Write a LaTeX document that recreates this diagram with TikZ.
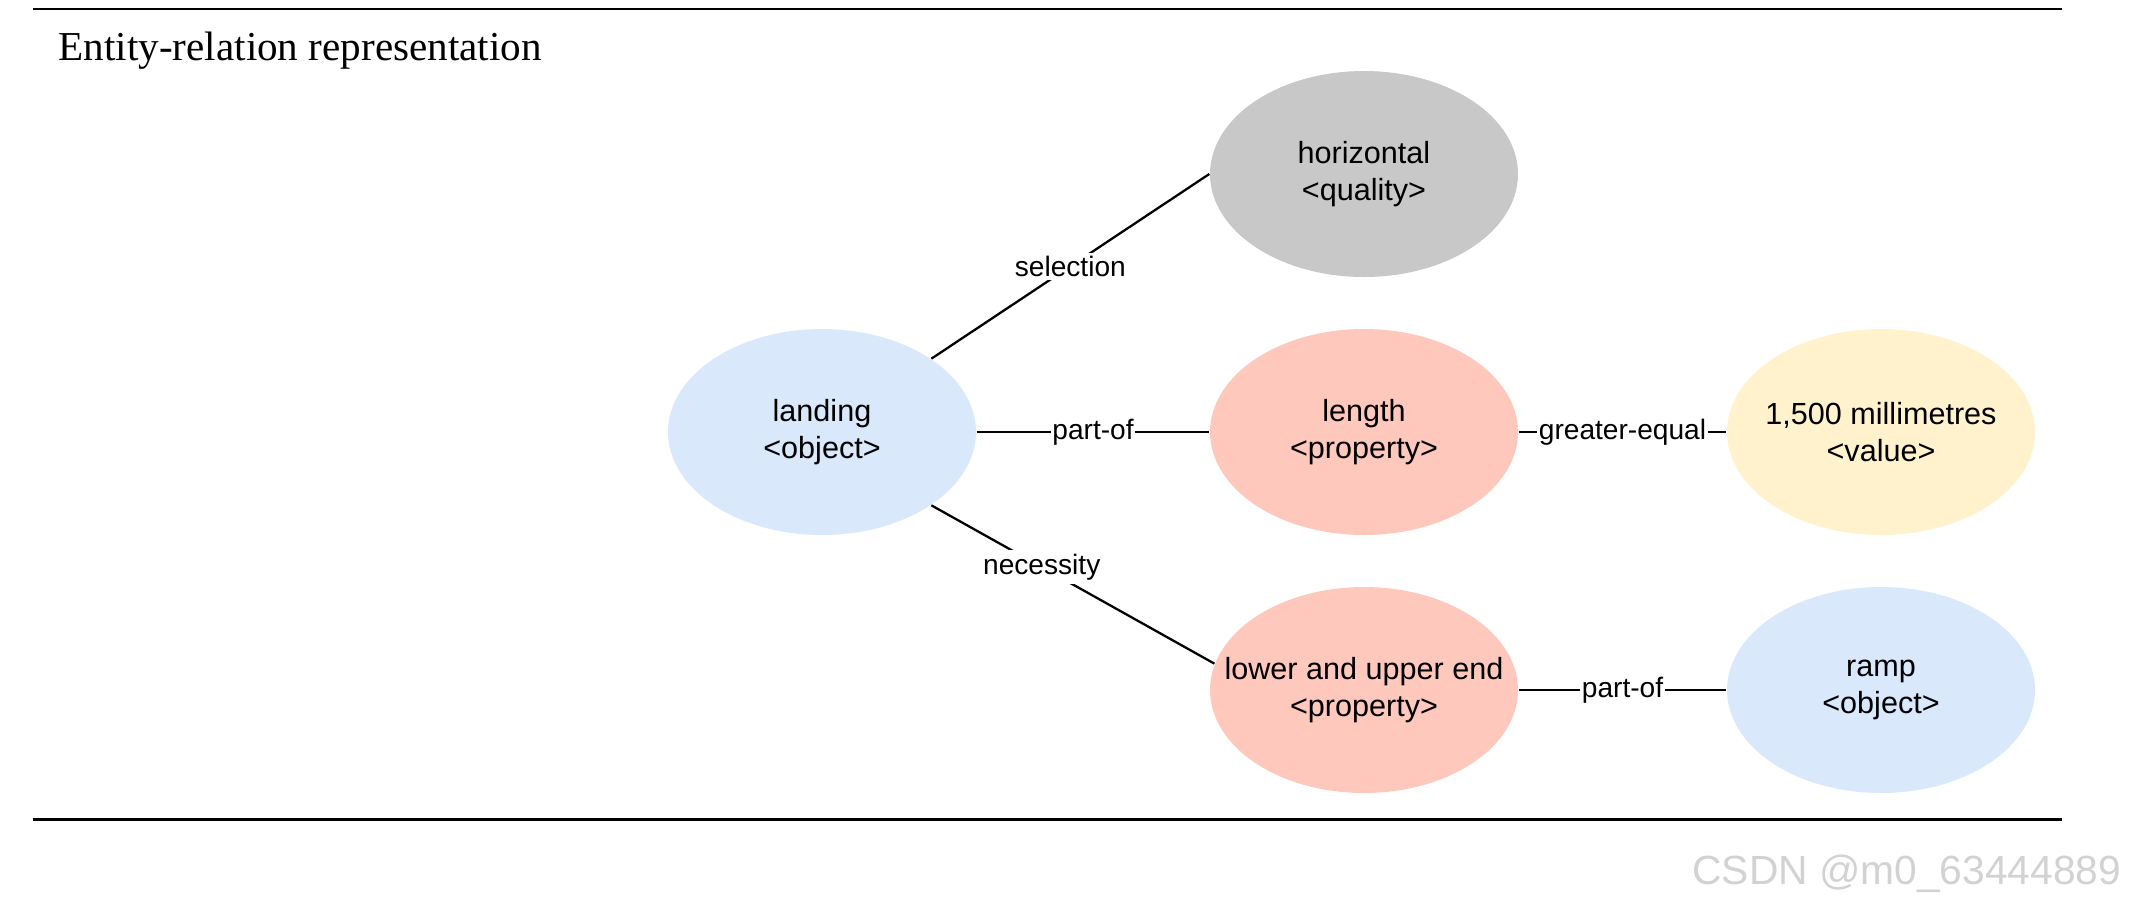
\documentclass[tikz,border=0pt]{standalone}
\usepackage{fontspec}
\setmainfont{Liberation Serif}
\setsansfont{Liberation Sans}
\usetikzlibrary{shapes.geometric}
\definecolor{objblue}{RGB}{218, 232, 252}
\definecolor{propred}{RGB}{255, 200, 188}
\definecolor{qualgray}{RGB}{200, 200, 200}
\definecolor{valyellow}{RGB}{255, 242, 204}

\begin{document}
\begin{tikzpicture}[
    entity/.style={ellipse, minimum width=3.08cm, minimum height=2.06cm, inner xsep=-0.5cm, inner ysep=0pt, align=center, font=\sffamily\fontsize{8.7}{10.5}\selectfont},
    rel/.style={fill=white, inner xsep=0.4pt, inner ysep=1pt, font=\sffamily\fontsize{8}{9.6}\selectfont},
    link/.style={line width=0.65pt}
  ]
          \useasboundingbox (0, 0) rectangle (21.3, 9.02);
          % Rules and title
          \draw[line width=0.48pt] (0.33, 8.93) -- (20.62, 8.93);
          \draw[line width=0.85pt] (0.33, 0.83) -- (20.62, 0.83);
          \node[anchor=base west, inner sep=0pt, font=\fontsize{11.7}{14}\selectfont] (title) at (0.58, 8.42) {Entity-relation representation};
          % Entities
          \node[entity, fill=objblue] (landing) at (8.22, 4.70) {landing\\<object>};
          \node[entity, fill=qualgray] (horizontal) at (13.64, 7.28) {horizontal\\<quality>};
          \node[entity, fill=propred] (length) at (13.64, 4.70) {length\\<property>};
          \node[entity, fill=propred] (ends) at (13.64, 2.12) {lower and upper end\\<property>};
          \node[entity, fill=valyellow] (value) at (18.81, 4.70) {1,500 millimetres\\<value>};
          \node[entity, fill=objblue] (ramp) at (18.81, 2.12) {ramp\\<object>};
          % Relations
          \draw[link] (landing.north east) -- (horizontal.west) node[rel, midway] {selection};
          \draw[link] (landing.east) -- (length.west) node[rel, midway] {part-of};
          \draw[link] (landing.south east) -- (ends.170) node[rel, pos=0.39] {necessity};
          \draw[link] (length.east) -- (value.west) node[rel, midway] {greater-equal};
          \draw[link] (ends.east) -- (ramp.west) node[rel, midway] {part-of};
          % Watermark
          \node[anchor=base east, inner sep=0pt, gray!35, font=\sffamily\fontsize{11.6}{13}\selectfont] (mark) at (21.22, 0.18) {CSDN @m0\_63444889};
        \end{tikzpicture}
\end{document}
